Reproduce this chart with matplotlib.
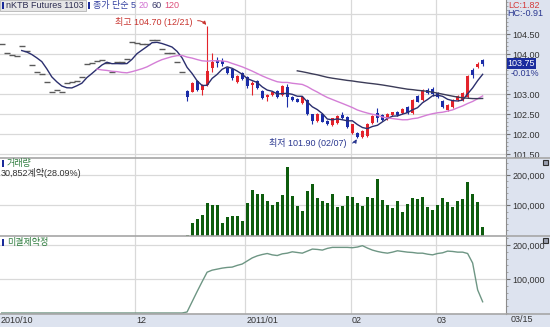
import numpy as np
import pandas as pd
import matplotlib
matplotlib.use("Agg")
import matplotlib.pyplot as plt
from matplotlib.patches import Rectangle
from matplotlib.lines import Line2D
from matplotlib.ticker import FixedLocator, MultipleLocator, FuncFormatter

plt.rcParams['font.family'] = ['Liberation Sans Narrow', 'Liberation Sans', 'Noto Sans CJK KR']
plt.rcParams['font.size'] = 6.5

# closes before the first trade of KTB 1103 (shown as dashes)
pre_close = [104.25, 104.03, 103.98, 103.96, 104.21, 104.07, 103.72, 103.56, 103.49, 103.31,
             103.06, 103.10, 103.04, 103.27, 103.29, 103.33, 103.42, 103.74, 103.78, 103.83,
             103.85, 103.77, 103.56, 103.79, 103.81, 103.87, 104.30, 104.27, 104.24, 104.25,
             104.35, 104.35, 104.12, 104.03, 104.02, 103.81, 103.54]

# daily candles 12/15 .. 03/15
open_ = [103.08, 103.06, 103.33, 103.10, 103.22, 103.66, 103.85, 103.83, 103.64, 103.62,
         103.30, 103.52, 103.43, 103.22, 103.33, 103.07, 102.93, 102.98, 103.08, 102.98,
         103.17, 102.92, 102.88, 102.78, 102.85, 102.49, 102.33, 102.50, 102.33, 102.22,
         102.27, 102.47, 102.42, 102.03, 102.03, 101.93, 101.95, 102.27, 102.52, 102.47,
         102.37, 102.47, 102.56, 102.52, 102.67, 102.53, 102.95, 102.85, 103.10, 103.12,
         103.03, 102.83, 102.60, 102.67, 102.85, 102.85, 102.92, 103.60, 103.68, 103.85]
high = [103.10, 103.30, 103.35, 103.25, 104.70, 104.02, 103.93, 103.90, 103.68, 103.64,
        103.47, 103.54, 103.45, 103.33, 103.35, 103.09, 103.00, 103.07, 103.10, 103.22,
        103.25, 102.95, 102.90, 102.94, 102.87, 102.51, 102.52, 102.52, 102.35, 102.41,
        102.47, 102.55, 102.44, 102.26, 102.05, 102.10, 102.27, 102.47, 102.64, 102.49,
        102.52, 102.56, 102.58, 102.64, 102.69, 102.87, 102.97, 103.12, 103.15, 103.17,
        103.05, 102.85, 102.75, 102.87, 102.98, 103.05, 103.47, 103.65, 103.80, 103.87]
low = [102.83, 103.04, 103.08, 102.98, 103.20, 103.56, 103.68, 103.70, 103.50, 103.36,
       103.28, 103.35, 103.14, 102.97, 103.13, 102.88, 102.82, 102.96, 102.91, 102.96,
       102.67, 102.83, 102.79, 102.76, 102.47, 102.25, 102.31, 102.29, 102.22, 102.20,
       102.25, 102.37, 102.16, 102.01, 101.90, 101.91, 101.93, 102.25, 102.31, 102.33,
       102.35, 102.45, 102.46, 102.50, 102.51, 102.51, 102.79, 102.83, 103.00, 102.95,
       102.90, 102.65, 102.58, 102.65, 102.83, 102.83, 102.90, 103.40, 103.66, 103.70]
close = [102.93, 103.27, 103.10, 103.22, 103.57, 103.79, 103.77, 103.74, 103.52, 103.39,
         103.45, 103.37, 103.20, 103.27, 103.15, 102.90, 102.97, 103.05, 102.93, 103.20,
         102.93, 102.85, 102.81, 102.92, 102.49, 102.33, 102.50, 102.31, 102.24, 102.39,
         102.45, 102.39, 102.18, 102.24, 101.92, 102.08, 102.25, 102.45, 102.39, 102.35,
         102.50, 102.54, 102.48, 102.62, 102.53, 102.85, 102.81, 103.10, 103.02, 103.00,
         102.92, 102.67, 102.73, 102.85, 102.96, 103.03, 103.45, 103.47, 103.76, 103.75]
volume = [2000, 42000, 56000, 68000, 109000, 103000, 103000, 44000, 63000, 64000,
          64000, 50000, 109000, 152000, 139000, 137000, 114000, 102000, 111000, 134000,
          225000, 131000, 98000, 81000, 147000, 170000, 126000, 116000, 109000, 137000,
          94000, 97000, 131000, 129000, 109000, 98000, 127000, 124000, 187000, 118000,
          102000, 92000, 116000, 79000, 104000, 125000, 120000, 129000, 94000, 84000,
          103000, 124000, 111000, 94000, 116000, 120000, 176000, 137000, 109832, 30852]
open_int = [3000, 33000, 63000, 92000, 120000, 126000, 129000, 132000, 134000, 135000,
            140000, 144000, 153000, 162000, 168000, 172000, 175000, 171000, 169000, 174000,
            176000, 180000, 178000, 176000, 182000, 188000, 187000, 185000, 190000, 193000,
            193000, 193000, 193000, 192000, 194000, 198000, 191000, 185000, 181000, 178000,
            176000, 179000, 183000, 181000, 179000, 178000, 176000, 176000, 173000, 171000,
            175000, 177000, 182000, 181000, 179000, 179000, 175000, 147000, 68000, 33000]

date_pos = [27, 49, 70, 87]
date_labels = ["12", "2011/01", "02", "03"]
price_grid = [101.5, 102.0, 102.5, 103.0, 103.5, 104.0, 104.5, 105.0]
price_labels = [101.5, 102.0, 102.5, 103.0, 104.0, 104.5]

RED = '#e3232b'
BLUE = '#1b2da8'
NAVY = '#2a3790'
GRID = '#d9d9d9'
BG = '#dde3ef'

W, H = 550, 327


def box(x0, y0, x1, y1):
    return [x0 / W, 1 - y1 / H, (x1 - x0) / W, (y1 - y0) / H]


def px(x, y):
    return x / W, 1 - y / H


fig = plt.figure(figsize=(5.5, 3.27), dpi=100, facecolor=BG)
renderer = fig.canvas.get_renderer()
ax1 = fig.add_axes(box(0, 0, 506, 158))
ax2 = fig.add_axes(box(0, 158, 506, 236), sharex=ax1)
ax3 = fig.add_axes(box(0, 236, 506, 314), sharex=ax1)

n_pre = len(pre_close)
all_close = pd.Series(pre_close + close)
x_all = np.arange(len(all_close))
xc = x_all[n_pre:]

for ax in (ax1, ax2, ax3):
    ax.set_facecolor('white')
    ax.set_xlim(-0.34, 100.66)
    ax.tick_params(axis='x', which='both', bottom=False, labelbottom=False)
    for s in ('left', 'top', 'bottom'):
        ax.spines[s].set_visible(False)
    ax.spines['right'].set_color('#8c8c8c')
    ax.yaxis.tick_right()
    ax.tick_params(axis='y', which='major', direction='out', length=3, color='#707070',
                   labelsize=6.5, pad=1.5, labelcolor='#333333')
    ax.tick_params(axis='y', which='minor', direction='out', length=1.5, color='#9a9a9a')
    for d in date_pos:
        ax.axvline(d - 0.35, color=GRID, lw=0.9, zorder=0)

# price panel
ax1.set_ylim(101.4, 105.35)
for p in price_grid:
    ax1.axhline(p, color=GRID, lw=0.9, zorder=0)
ax1.yaxis.set_major_locator(FixedLocator(price_labels))
ax1.yaxis.set_major_formatter(FuncFormatter(lambda v, _: f"{v:.2f}"))
ax1.yaxis.set_minor_locator(MultipleLocator(0.1))

ax1.plot(x_all[:n_pre], pre_close, ls='none', marker='_', ms=4, mew=1, color='#5a5a5a', zorder=2)

o, h, l, c = map(np.array, (open_, high, low, close))
col = np.where(c >= o, RED, BLUE)
ax1.vlines(xc, l, h, colors=col, lw=0.8, zorder=3)
ax1.bar(xc, np.maximum(np.abs(c - o), 0.02), bottom=np.minimum(o, c), width=0.62,
        color=col, linewidth=0, zorder=3)

ma5 = all_close.rolling(5).mean()
ma20 = all_close.rolling(20).mean()
ma60 = all_close.rolling(60).mean()
ax1.plot(x_all, ma5, color='#2b2f6e', lw=1, zorder=4)
ax1.plot(x_all, ma20, color='#d47ed6', lw=1, zorder=4)
ax1.plot(x_all, ma60, color='#3c3c58', lw=1, zorder=4)

hi_i = n_pre + int(np.argmax(h))
lo_i = n_pre + int(np.argmin(l))
ax1.annotate(f"최고 {h.max():.2f} (12/21)", xy=(hi_i, h.max()), xytext=(38.0, 104.80),
             ha='right', va='center', color='#c8342f', fontsize=6.5,
             arrowprops=dict(arrowstyle='-|>', color='#c8342f', lw=0.7, mutation_scale=5,
                             connectionstyle='arc3,rad=-0.4', relpos=(1, 0.5),
                             shrinkA=2, shrinkB=1))
ax1.annotate(f"최저 {l.min():.2f} (02/07)", xy=(lo_i, l.min()), xytext=(68.9, 101.77),
             ha='right', va='center', color=NAVY, fontsize=6.5,
             arrowprops=dict(arrowstyle='-|>', color=NAVY, lw=0.7, mutation_scale=5,
                             connectionstyle='arc3,rad=0.4', relpos=(1, 0.5),
                             shrinkA=2, shrinkB=1))

ax1.text(1.003, close[-1] + 0.01, f"{close[-1]:.2f}", transform=ax1.get_yaxis_transform(),
         color='white', va='center', ha='left', fontsize=6.5,
         bbox=dict(boxstyle='square,pad=0.08', fc='#1a2c9e', ec='none'))
chg = (close[-1] - close[-2]) / close[-2] * 100
ax1.text(1.010, 103.50, f"{chg:.2f}%", transform=ax1.get_yaxis_transform(),
         color=NAVY, va='center', ha='left', fontsize=6.5)

# volume panel
ax2.set_ylim(0, 255700)
for v in (100000, 200000):
    ax2.axhline(v, color=GRID, lw=0.9, zorder=0)
ax2.bar(xc, volume, width=0.62, color='#0d5c0d', linewidth=0, zorder=2)
ax2.yaxis.set_major_locator(FixedLocator([100000, 200000]))
ax2.yaxis.set_major_formatter(FuncFormatter(lambda v, _: f"{v:,.0f}"))
ax2.yaxis.set_minor_locator(MultipleLocator(20000))

# open interest panel
ax3.set_ylim(-2940, 226470)
for v in (100000, 200000):
    ax3.axhline(v, color=GRID, lw=0.9, zorder=0)
oi_all = np.r_[np.zeros(n_pre), open_int]
ax3.plot(x_all, oi_all, color='#6e9684', lw=1, zorder=2)
ax3.yaxis.set_major_locator(FixedLocator([100000, 200000]))
ax3.yaxis.set_major_formatter(FuncFormatter(lambda v, _: f"{v:,.0f}"))
ax3.yaxis.set_minor_locator(MultipleLocator(20000))

# date strip
xt = ax3.get_xaxis_transform()
ax3.text(-0.2, -0.085, "2010/10", transform=xt, ha='left', va='center', color='#333333')
for d, lab in zip(date_pos, date_labels):
    ax3.text(d - 0.15, -0.085, lab, transform=xt, ha='left', va='center', color='#333333')
fig.text(*px(511, 320), "03/15", ha='left', va='center', color='#333333')

# panel separators
for y in (158, 236, 313.5):
    fig.add_artist(Line2D([0, 1], [1 - y / H] * 2, color='#a6a6a6', lw=1.2))

# header legend, laid out left to right
for x0, y0 in ((1.5, 9), (2, 167), (2, 246)):
    fig.patches.append(Rectangle(px(x0, y0), 2.2 / W, 7 / H, transform=fig.transFigure,
                                 fc='#1a2a9a', ec='none', zorder=6))
title = fig.text(*px(6, 5.5), "nKTB Futures 1103", color='#2e2e52', va='center', zorder=7)
x_end = 6 + title.get_window_extent(renderer=renderer).width
fig.patches.append(Rectangle(px(0, 11), (x_end + 2) / W, 11 / H, transform=fig.transFigure,
                             fc='#e6e6e6', ec='#b4b4b4', lw=0.6, zorder=5))
x_cur = x_end + 4
fig.patches.append(Rectangle(px(x_cur, 9), 2.2 / W, 7 / H, transform=fig.transFigure,
                             fc='#1a2a9a', ec='none', zorder=6))
x_cur += 5
legend_parts = [("종가 단순 5", '#3340a0'), ("20", '#d070d0'), ("60", '#3a3a6a'), ("120", '#dd4f7a')]
for s, colr in legend_parts:
    t = fig.text(*px(x_cur, 5.5), s, color=colr, va='center', zorder=7)
    x_cur += t.get_window_extent(renderer=renderer).width + 3

fig.text(*px(508, 5), "LC:1.82", color='#d43a3a', va='center')
fig.text(*px(507, 14), "HC:-0.91", color=NAVY, va='center')

fig.text(*px(7, 163), "거래량", color='#2f7d3f', va='center')
fig.text(*px(1, 173), f"{volume[-1]:,}계약({volume[-1] / volume[-2] * 100:.2f}%)",
         color='#333333', va='center')
fig.text(*px(7, 242), "미결제약정", color='#2f7d3f', va='center')

for y0 in (165, 243):
    fig.patches.append(Rectangle(px(543, y0), 5 / W, 5 / H, transform=fig.transFigure,
                                 fc='#9aa0b0', ec='#303030', lw=0.8, zorder=6))

fig.savefig("out.png", dpi=100, facecolor=BG)
